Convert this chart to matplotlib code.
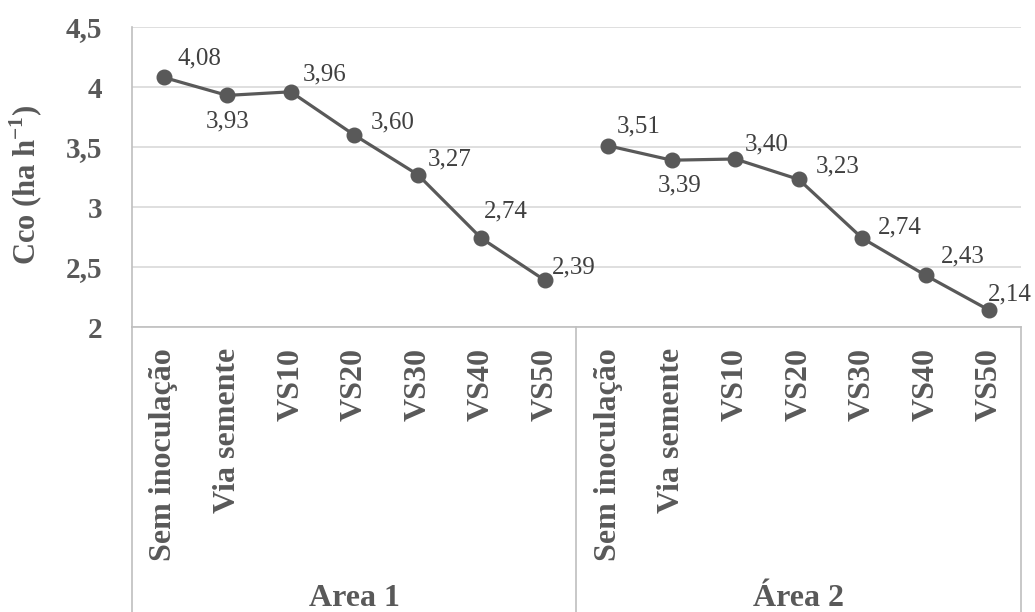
import matplotlib
matplotlib.use("Agg")
import matplotlib.pyplot as plt
import matplotlib.transforms as mtransforms

plt.rcParams["font.family"] = ["Liberation Serif", "DejaVu Serif"]
plt.rcParams["mathtext.fontset"] = "custom"
plt.rcParams["mathtext.rm"] = "Liberation Serif:bold"
plt.rcParams["mathtext.bf"] = "Liberation Serif:bold"

# Data
treatments = ["Sem inoculação", "Via semente", "VS10", "VS20", "VS30", "VS40", "VS50"]
groups = ["Area 1", "Área 2"]
area1 = [4.08, 3.93, 3.96, 3.60, 3.27, 2.74, 2.39]
area2 = [3.51, 3.39, 3.40, 3.23, 2.74, 2.43, 2.14]
yticks = [2, 2.5, 3, 3.5, 4, 4.5]
ytick_labels = ["2", "2,5", "3", "3,5", "4", "4,5"]

# Label offsets in pixels (dx, dy) relative to each marker
offsets1 = [(36, 19), (0, -26), (34, 17), (38, 13), (32, 15), (25, 27), (29, 13)]
offsets2 = [(30, 19), (8, -25), (31, 15), (39, 13), (38, 11), (37, 19), (21, 16)]

TXT = "#595959"
GRID = "#D9D9D9"
AX = "#BFBFBF"

W, H, DPI = 1035, 612, 100
fig = plt.figure(figsize=(W / DPI, H / DPI), dpi=DPI)
left, right, top, bottom = 132, 1021, 27, 327
ax = fig.add_axes([left / W, 1 - bottom / H, (right - left) / W, (bottom - top) / H])

n = len(treatments)
x1 = list(range(n))
x2 = list(range(n, 2 * n))

ax.plot(x1, area1, color=TXT, lw=2.3, marker="o", ms=10.5, zorder=3, clip_on=False)
ax.plot(x2, area2, color=TXT, lw=2.3, marker="o", ms=10.5, zorder=3, clip_on=False)

for xs, vals, offs in [(x1, area1, offsets1), (x2, area2, offsets2)]:
    for x, v, (dx, dy) in zip(xs, vals, offs):
        ax.annotate(f"{v:.2f}".replace(".", ","), (x, v), xytext=(dx * 0.72, dy * 0.72),
                    textcoords="offset points", ha="center", va="center",
                    fontsize=18, color="#404040")

ax.set_xlim(-0.5, 2 * n - 0.5)
ax.set_ylim(2, 4.5)
ax.set_yticks(yticks)
ax.set_yticklabels(ytick_labels, fontsize=21, fontweight="bold", color=TXT)
ax.tick_params(axis="y", length=0, pad=30 * 0.72)
ax.set_xticks([])
for y in yticks:
    ax.axhline(y, color=GRID, lw=1.2, zorder=1)
for s in ["top", "right", "bottom"]:
    ax.spines[s].set_visible(False)
ax.spines["left"].set_color(AX)
ax.spines["left"].set_linewidth(1.2)

ax.set_ylabel("Cco (ha h$^{\\mathregular{-1}}$)", fontsize=22, fontweight="bold", color=TXT,
              va="center", ha="center")
ax.yaxis.set_label_coords((26 - left) / (right - left), (bottom - 185) / (bottom - top))

# Category axis below the plot
trans = mtransforms.blended_transform_factory(ax.transData, ax.transAxes)
ybot = -(H - bottom) / (bottom - top)
ax.plot([-0.5, 2 * n - 0.5], [0, 0], transform=trans, color=AX, lw=1.2, clip_on=False)
for xv in [-0.5, n - 0.5, 2 * n - 0.5]:
    ax.plot([xv, xv], [0, ybot], transform=trans, color=AX, lw=1.2, clip_on=False)

lab_top = -(348 - bottom) / (bottom - top)
for xs in [x1, x2]:
    for x, name in zip(xs, treatments):
        ax.text(x, lab_top, name, transform=trans, rotation=90, ha="center", va="top",
                fontsize=23, fontweight="bold", color=TXT)

grp_y = -(598 - bottom) / (bottom - top)
for i, g in enumerate(groups):
    ax.text(i * n + (n - 1) / 2, grp_y, g, transform=trans, ha="center", va="center",
            fontsize=23, fontweight="bold", color=TXT)

fig.savefig("out.png", dpi=DPI)
